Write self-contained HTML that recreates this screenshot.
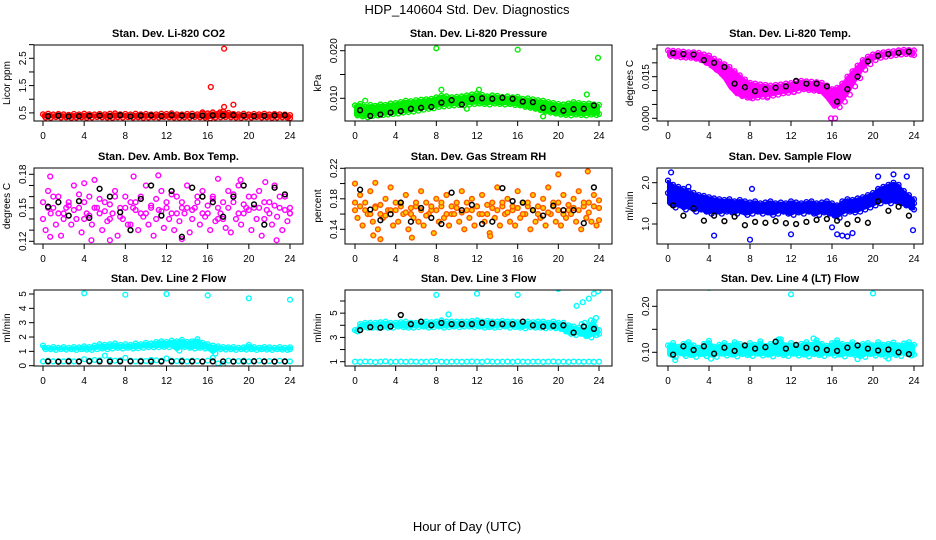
<!DOCTYPE html>
<html><head><meta charset="utf-8">
<style>
html,body{margin:0;padding:0;background:#fff;}
svg{display:block;font-family:"Liberation Sans",Arial,sans-serif;}
</style></head>
<body>
<svg id="c" width="936" height="540" viewBox="0 0 936 540" xmlns="http://www.w3.org/2000/svg">
<text x="467" y="14" text-anchor="middle" font-size="13">HDP_140604  Std. Dev. Diagnostics</text>
<text x="467" y="531" text-anchor="middle" font-size="13">Hour of Day (UTC)</text>
</svg>
<script>
const hrsC = Array.from({length:49},(_,i)=>i*0.5);
const hrsB = Array.from({length:24},(_,i)=>i+0.5);
const xTicks = [0,4,8,12,16,20,24];

const co2Hi = [0.45,0.47,0.44,0.46,0.45,0.43,0.46,0.44,0.47,0.45,0.44,0.46,0.45,0.47,0.48,0.45,0.46,0.44,0.47,0.45,0.46,0.44,0.45,0.47,0.46,0.48,0.45,0.44,0.46,0.47,0.45,0.46,0.48,0.52,0.47,0.55,0.5,0.46,0.45,0.47,0.44,0.46,0.45,0.47,0.44,0.46,0.45,0.44,0.42];
const co2Lo = [0.33,0.32,0.35,0.33,0.34,0.32,0.33,0.34,0.32,0.33,0.35,0.34,0.33,0.32,0.34,0.33,0.35,0.33,0.34,0.32,0.33,0.34,0.33,0.35,0.34,0.33,0.32,0.34,0.33,0.35,0.34,0.33,0.3,0.33,0.34,0.35,0.34,0.33,0.32,0.34,0.33,0.35,0.33,0.34,0.32,0.33,0.34,0.33,0.31];
const co2Blk = [0.38,0.4,0.37,0.38,0.39,0.4,0.38,0.42,0.37,0.4,0.41,0.38,0.42,0.4,0.39,0.4,0.41,0.4,0.42,0.4,0.38,0.39,0.41,0.42];
const co2OutX = [16.3,17.6,17.6,18.5,17.2,15.5];
const co2OutY = [1.45,2.85,0.72,0.8,0.52,0.52];

const presHi = [0.0085,0.0088,0.0082,0.0086,0.0084,0.0087,0.0086,0.0089,0.0090,0.0092,0.0095,0.0094,0.0096,0.0097,0.0098,0.0099,0.0102,0.0105,0.0104,0.0102,0.0103,0.0104,0.0106,0.0108,0.0110,0.0107,0.0104,0.0106,0.0105,0.0103,0.0104,0.0102,0.0103,0.0099,0.0100,0.0098,0.0096,0.0095,0.0092,0.0090,0.0088,0.0087,0.0089,0.0092,0.0090,0.0088,0.0089,0.0087,0.0086];
const presLo = [0.0064,0.0062,0.0060,0.0063,0.0064,0.0065,0.0066,0.0067,0.0068,0.0070,0.0071,0.0072,0.0074,0.0076,0.0078,0.0079,0.0082,0.0083,0.0084,0.0085,0.0086,0.0085,0.0087,0.0088,0.0089,0.0088,0.0087,0.0089,0.0088,0.0087,0.0088,0.0086,0.0085,0.0082,0.0080,0.0078,0.0075,0.0072,0.0070,0.0068,0.0066,0.0065,0.0064,0.0066,0.0065,0.0064,0.0066,0.0065,0.0067];
const presBlk = [0.0075,0.0063,0.0066,0.0070,0.0073,0.0078,0.0080,0.0082,0.0091,0.0096,0.0087,0.0099,0.0100,0.0099,0.0101,0.0099,0.0093,0.0092,0.0080,0.0078,0.0074,0.0077,0.0078,0.0085];
const presOutX = [8,16,23.9,8.5,12.2,22.8,1,11,18.5];
const presOutY = [0.0205,0.0202,0.0185,0.0118,0.0118,0.0108,0.0095,0.0078,0.0062];

const tempHi = [0.0245,0.0243,0.0242,0.0240,0.0238,0.0238,0.0236,0.0230,0.0226,0.0215,0.0205,0.0195,0.0185,0.0170,0.0155,0.0140,0.0128,0.0125,0.0122,0.0120,0.0118,0.0120,0.0122,0.0125,0.0127,0.0132,0.0135,0.0133,0.0132,0.0130,0.0128,0.0118,0.0105,0.0110,0.0125,0.0150,0.0170,0.0190,0.0210,0.0222,0.0230,0.0235,0.0238,0.0240,0.0242,0.0245,0.0247,0.0246,0.0245];
const tempLo = [0.0225,0.0223,0.0220,0.0219,0.0218,0.0215,0.0210,0.0200,0.0190,0.0175,0.0160,0.0140,0.0110,0.0090,0.0080,0.0075,0.0072,0.0075,0.0078,0.0080,0.0082,0.0085,0.0090,0.0092,0.0095,0.0100,0.0105,0.0102,0.0100,0.0098,0.0090,0.0070,0.0045,0.0040,0.0060,0.0085,0.0115,0.0145,0.0175,0.0195,0.0210,0.0218,0.0222,0.0225,0.0228,0.0230,0.0232,0.0230,0.0228];
const tempBlk = [0.0235,0.0232,0.0230,0.0210,0.0200,0.0185,0.0125,0.0112,0.0098,0.0105,0.0110,0.0115,0.0135,0.0125,0.0125,0.0115,0.0060,0.0105,0.0150,0.0205,0.0225,0.0232,0.0236,0.0240];
const tempOutX = [15.9,16.3,8,9.7,12.3];
const tempOutY = [0.0,0.0,0.0075,0.0075,0.0095];

const ambA = [0.140,0.165,0.150,0.160,0.145,0.155,0.170,0.150,0.140,0.160,0.175,0.145,0.155,0.140,0.165,0.150,0.160,0.135,0.155,0.145,0.170,0.150,0.140,0.165,0.155,0.145,0.160,0.150,0.170,0.140,0.155,0.165,0.145,0.160,0.150,0.140,0.165,0.155,0.170,0.145,0.160,0.150,0.165,0.140,0.155,0.170,0.150,0.160,0.145];
const ambB = [0.130,0.145,0.135,0.125,0.150,0.135,0.140,0.128,0.145,0.135,0.150,0.130,0.138,0.145,0.125,0.140,0.135,0.150,0.130,0.142,0.135,0.125,0.148,0.132,0.140,0.130,0.138,0.145,0.128,0.150,0.135,0.142,0.130,0.138,0.145,0.132,0.128,0.140,0.135,0.150,0.130,0.140,0.125,0.148,0.135,0.142,0.130,0.138,0.145];
const ambC = [0.155,0.150,0.160,0.145,0.140,0.152,0.148,0.162,0.155,0.143,0.150,0.158,0.147,0.153,0.160,0.142,0.150,0.155,0.148,0.160,0.145,0.152,0.158,0.147,0.150,0.162,0.145,0.155,0.150,0.148,0.160,0.145,0.152,0.158,0.140,0.155,0.150,0.162,0.145,0.153,0.148,0.160,0.150,0.155,0.145,0.152,0.160,0.148,0.150];
const ambBlk = [0.151,0.155,0.143,0.156,0.141,0.167,0.160,0.146,0.130,0.158,0.170,0.143,0.165,0.124,0.168,0.160,0.155,0.142,0.160,0.170,0.153,0.135,0.168,0.162];
const ambOutX = [0.7,4,8.8,11.2,17,19.2,21.6,0.7,4.7,6.5,13.5,22.7];
const ambOutY = [0.178,0.172,0.178,0.179,0.176,0.175,0.173,0.124,0.121,0.121,0.122,0.121];

const rhA = [0.175,0.185,0.165,0.190,0.170,0.160,0.180,0.195,0.165,0.175,0.185,0.160,0.170,0.190,0.175,0.165,0.180,0.170,0.185,0.160,0.175,0.190,0.165,0.180,0.170,0.185,0.160,0.175,0.195,0.170,0.180,0.165,0.190,0.175,0.170,0.185,0.160,0.180,0.195,0.170,0.175,0.185,0.165,0.180,0.190,0.170,0.175,0.185,0.178];
const rhB = [0.155,0.145,0.160,0.150,0.140,0.155,0.165,0.145,0.150,0.160,0.140,0.155,0.150,0.145,0.160,0.135,0.150,0.155,0.145,0.160,0.150,0.140,0.155,0.145,0.160,0.150,0.135,0.155,0.145,0.160,0.150,0.145,0.155,0.160,0.140,0.150,0.155,0.145,0.160,0.150,0.145,0.155,0.160,0.150,0.140,0.155,0.150,0.145,0.152];
const rhC = [0.165,0.170,0.175,0.160,0.168,0.172,0.158,0.165,0.175,0.170,0.162,0.168,0.175,0.165,0.158,0.170,0.165,0.175,0.160,0.170,0.168,0.162,0.175,0.165,0.170,0.160,0.172,0.168,0.165,0.175,0.162,0.170,0.168,0.160,0.175,0.165,0.170,0.168,0.162,0.175,0.165,0.160,0.172,0.168,0.165,0.175,0.162,0.170,0.168];
const rhBlk = [0.192,0.166,0.152,0.160,0.175,0.150,0.168,0.155,0.147,0.188,0.165,0.172,0.147,0.150,0.194,0.177,0.175,0.165,0.158,0.171,0.165,0.165,0.148,0.195];
const rhOutX = [0,2,2.5,5.6,20,22.9,13.3,1.8];
const rhOutY = [0.200,0.201,0.127,0.129,0.212,0.216,0.131,0.132];

const flA = [2.05,1.95,1.90,1.85,1.80,1.75,1.70,1.68,1.65,1.62,1.60,1.58,1.60,1.55,1.58,1.55,1.52,1.55,1.50,1.52,1.55,1.50,1.52,1.50,1.55,1.52,1.50,1.53,1.55,1.50,1.52,1.55,1.50,1.45,1.55,1.60,1.58,1.62,1.65,1.70,1.75,1.85,1.90,1.95,2.00,1.95,1.80,1.70,1.60];
const flB = [1.50,1.40,1.45,1.35,1.40,1.30,1.35,1.30,1.25,1.30,1.25,1.30,1.28,1.25,1.30,1.22,1.25,1.30,1.25,1.28,1.22,1.25,1.30,1.25,1.22,1.28,1.25,1.30,1.25,1.22,1.28,1.25,1.20,1.15,1.25,1.30,1.28,1.30,1.35,1.40,1.45,1.50,1.55,1.50,1.55,1.50,1.45,1.40,1.35];
const flC = [1.75,1.70,1.60,1.65,1.55,1.60,1.50,1.48,1.45,1.42,1.40,1.42,1.40,1.38,1.40,1.38,1.40,1.42,1.38,1.40,1.40,1.38,1.42,1.40,1.38,1.40,1.42,1.40,1.38,1.40,1.42,1.38,1.35,0.75,0.72,0.70,0.78,1.45,1.50,1.55,1.60,1.65,1.70,1.72,1.75,1.70,1.65,1.60,1.50];
const flBlk = [1.45,1.20,1.38,1.08,1.20,1.07,1.18,0.97,1.05,1.03,1.07,1.02,1.00,1.05,1.10,1.12,1.08,1.00,1.10,1.03,1.55,1.32,1.42,1.20];
const flOutX = [4.5,8,12,16,23.9,0.3,2,8.2,22,20.5,23.3];
const flOutY = [0.72,0.62,0.75,0.92,0.85,2.25,1.9,1.85,2.2,2.15,2.15];

const l2Hi = [1.40,1.25,1.30,1.25,1.30,1.25,1.30,1.28,1.35,1.30,1.40,1.50,1.45,1.50,1.55,1.45,1.50,1.45,1.55,1.50,1.60,1.55,1.65,1.70,1.65,1.75,1.70,1.80,1.65,1.70,1.85,1.60,1.50,1.40,1.35,1.30,1.28,1.30,1.25,1.28,1.45,1.30,1.25,1.30,1.28,1.25,1.30,1.25,1.28];
const l2Lo = [1.15,1.15,1.10,1.15,1.12,1.15,1.10,1.15,1.12,1.10,1.15,1.20,1.15,1.20,1.25,1.20,1.25,1.20,1.22,1.25,1.30,1.28,1.30,1.32,1.30,1.35,1.05,1.30,1.25,1.20,1.25,1.20,1.18,0.85,1.15,1.12,1.15,1.10,1.15,1.12,1.15,1.10,1.15,1.12,1.10,1.15,1.12,1.10,1.15];
const l2Base = [0.30,0.35,0.30,0.32,0.30,0.35,0.30,0.32,0.45,0.35,0.40,0.38,0.70,0.40,0.35,0.38,0.55,0.35,0.30,0.35,0.32,0.40,0.38,0.35,0.50,0.35,0.32,0.38,0.30,0.35,0.32,0.30,0.35,0.55,0.15,0.10,0.35,0.30,0.32,0.35,0.30,0.32,0.35,0.30,0.32,0.30,0.35,0.30,0.30];
const l2Blk = [0.30,0.28,0.30,0.29,0.31,0.30,0.29,0.30,0.31,0.30,0.29,0.30,0.30,0.31,0.30,0.29,0.30,0.30,0.29,0.30,0.31,0.30,0.29,0.30];
const l2OutX = [4,8,12,16,20,24];
const l2OutY = [5.05,4.95,5.0,4.9,4.7,4.6];

const l3Hi = [3.6,4.1,4.2,4.2,4.2,4.25,4.3,4.2,4.2,4.25,4.3,4.2,4.2,4.3,4.3,4.25,4.3,4.4,4.3,4.3,4.3,4.3,4.3,4.35,4.4,4.3,4.35,4.3,4.3,4.35,4.3,4.3,4.25,4.3,4.3,4.25,4.3,4.3,4.2,4.3,4.2,4.2,4.0,3.9,3.8,3.6,4.0,4.3,3.6];
const l3Lo = [3.5,3.8,3.8,3.8,3.8,3.85,3.8,3.8,3.9,3.85,3.8,3.8,3.85,3.9,3.8,3.85,3.9,3.8,3.85,3.9,3.85,3.9,3.9,3.85,3.9,3.8,3.85,3.8,3.85,3.9,3.8,3.85,3.8,3.75,3.85,3.8,3.8,3.75,3.8,3.75,3.7,3.5,3.3,3.2,3.3,3.1,3.0,3.2,3.3];
const l3Base = [1.0,0.98,1.02,1.0,0.97,1.0,1.03,0.98,1.0,1.01,0.99,1.02,1.0,0.98,1.0,1.02,1.05,1.0,0.98,1.0,1.01,0.99,1.0,1.02,1.0,0.98,1.03,1.0,0.99,1.0,1.01,0.98,1.02,1.0,0.99,1.0,1.01,0.98,1.0,1.02,0.99,1.0,0.98,1.01,1.0,0.99,1.0,0.98,1.0];
const l3Blk = [3.6,3.85,3.8,3.9,4.85,4.1,4.3,4.0,4.2,4.1,4.1,4.1,4.2,4.15,4.1,4.1,4.3,4.0,3.9,3.95,4.0,3.4,3.9,3.7];
const l3OutX = [4,8,12,16,20,9.2,21.8,22.4,23,23.5,23.9,22.3,22.6,23.2,23.7];
const l3OutY = [7.2,6.5,6.6,6.5,7.0,4.9,5.6,5.9,6.2,6.6,6.8,4.1,4.2,4.4,4.6];

const l4A = [0.115,0.120,0.112,0.118,0.122,0.115,0.110,0.118,0.125,0.112,0.116,0.120,0.114,0.122,0.118,0.112,0.120,0.116,0.124,0.114,0.118,0.122,0.128,0.115,0.120,0.114,0.118,0.122,0.116,0.126,0.118,0.114,0.120,0.126,0.118,0.116,0.122,0.114,0.118,0.120,0.115,0.122,0.116,0.118,0.121,0.115,0.119,0.122,0.116];
const l4B = [0.095,0.090,0.098,0.092,0.094,0.090,0.096,0.092,0.095,0.090,0.097,0.093,0.095,0.091,0.096,0.094,0.092,0.097,0.093,0.095,0.091,0.096,0.094,0.092,0.097,0.093,0.095,0.091,0.096,0.094,0.092,0.097,0.093,0.095,0.091,0.096,0.094,0.092,0.090,0.096,0.093,0.095,0.091,0.096,0.094,0.092,0.097,0.093,0.095];
const l4Blk = [0.095,0.113,0.105,0.113,0.097,0.110,0.103,0.115,0.108,0.111,0.123,0.108,0.116,0.110,0.108,0.105,0.103,0.110,0.115,0.108,0.104,0.106,0.100,0.096];
const l4OutX = [4,12,20,0.7,4.2,18.5,21.5,14.2,10.8];
const l4OutY = [0.240,0.226,0.228,0.083,0.086,0.085,0.086,0.130,0.128];

const colL=[34,345,657], colR=[303,612,923], colX0=[43,355,668], colX24=[290,599,914];
const rowT=[45,168,290], rowB=[121,244,366];
const NS='http://www.w3.org/2000/svg';
const svg=document.getElementById('c');
function mk(tag,attrs,parent){const e=document.createElementNS(NS,tag);for(const k in attrs)e.setAttribute(k,attrs[k]);(parent||svg).appendChild(e);return e;}

const panels=[
 {id:'co2',title:'Stan. Dev. Li-820 CO2',yl:'Licor ppm',c:0,r:0,ref:[0.5,112.9,2.5,58.3],ticks:[0.5,1,1.5,2,2.5,3],labels:['0.5','1.5','2.5'],col:'#ff0000',band:[co2Lo,co2Hi],pts:[co2Hi,co2Lo],blk:co2Blk,ox:co2OutX,oy:co2OutY},
 {id:'pressure',title:'Stan. Dev. Li-820 Pressure',yl:'kPa',c:1,r:0,ref:[0.010,98.3,0.020,50.7],ticks:[0.010,0.015,0.020],labels:['0.010','0.020'],col:'#00ee00',band:[presLo,presHi],pts:[presHi,presLo],blk:presBlk,ox:presOutX,oy:presOutY},
 {id:'temp',title:'Stan. Dev. Li-820 Temp.',yl:'degrees C',c:2,r:0,ref:[0,118.3,0.015,76.7],ticks:[0,0.005,0.010,0.015,0.020,0.025],labels:['0.000','0.015'],col:'#ff00ff',band:[tempLo,tempHi],pts:[tempHi,tempLo],blk:tempBlk,ox:tempOutX,oy:tempOutY},
 {id:'amb-box-temp',title:'Stan. Dev. Amb. Box Temp.',yl:'degrees C',c:0,r:1,ref:[0.12,241.3,0.18,174.3],ticks:[0.12,0.13,0.14,0.15,0.16,0.17,0.18],labels:['0.12','0.15','0.18'],col:'#ff00ff',band:null,pts:[ambA,ambB,ambC],blk:ambBlk,ox:ambOutX,oy:ambOutY},
 {id:'gas-rh',title:'Stan. Dev. Gas Stream RH',yl:'percent',c:1,r:1,ref:[0.14,229.3,0.22,168.3],ticks:[0.14,0.16,0.18,0.20,0.22],labels:['0.14','0.18','0.22'],col:'#ff5500',fill:'#ffcc00',band:null,pts:[rhA,rhB,rhC],blk:rhBlk,ox:rhOutX,oy:rhOutY},
 {id:'sample-flow',title:'Stan. Dev. Sample Flow',yl:'ml/min',c:2,r:1,ref:[1.0,224,2.0,182.7],ticks:[1.0,1.5,2.0],labels:['1.0','2.0'],col:'#0000ff',band:[flB,flA],pts:[flA,flB,flC],blk:flBlk,ox:flOutX,oy:flOutY},
 {id:'line2-flow',title:'Stan. Dev. Line 2 Flow',yl:'ml/min',c:0,r:2,ref:[0,365.7,5,294],ticks:[0,1,2,3,4,5],labels:['0','1','2','3','4','5'],col:'#00ffff',band:[l2Lo,l2Hi],pts:[l2Hi,l2Lo,l2Base],blk:l2Blk,ox:l2OutX,oy:l2OutY},
 {id:'line3-flow',title:'Stan. Dev. Line 3 Flow',yl:'ml/min',c:1,r:2,ref:[1,361.7,6,301],ticks:[1,2,3,4,5,6],labels:['1','3','5'],col:'#00ffff',band:[l3Lo,l3Hi],pts:[l3Hi,l3Lo,l3Base],blk:l3Blk,ox:l3OutX,oy:l3OutY},
 {id:'line4-flow',title:'Stan. Dev. Line 4 (LT) Flow',yl:'ml/min',c:2,r:2,ref:[0.10,352.3,0.20,306.3],ticks:[0.10,0.15,0.20],labels:['0.10','0.20'],col:'#00ffff',band:[l4B,l4A],pts:[l4A,l4B],blk:l4Blk,ox:l4OutX,oy:l4OutY}
];

panels.forEach(p=>{
  const L=colL[p.c],R=colR[p.c],T=rowT[p.r],B=rowB[p.r];
  const xs=h=>colX0[p.c]+(colX24[p.c]-colX0[p.c])*h/24;
  const [v1,p1,v2,p2]=p.ref;
  const ys=v=>p1+(v-v1)*(p2-p1)/(v2-v1);
  const g=mk('g',{});
  
  
  const t=mk('text',{x:(L+R)/2,y:T-8,'text-anchor':'middle','font-size':11,'font-weight':'bold'},g);
  t.textContent=p.title;
  
  
  const yl=mk('text',{x:0,y:0,'text-anchor':'middle','font-size':10,transform:`translate(${L-24},${(T+B)/2}) rotate(-90)`},g);
  yl.textContent=p.yl;
  
  
  const plot=mk('g',{},g);
  
  
  const clip='clip-'+p.id;
  const cp=mk('clipPath',{id:clip},g);mk('rect',{x:L,y:T,width:R-L,height:B-T},cp);
  const marks=mk('g',{'clip-path':`url(#${clip})`},plot);
  if(p.band){
    const [lo,hi]=p.band;
    let d='M'+hrsC.map((h,i)=>xs(h).toFixed(1)+','+ys(hi[i]).toFixed(1)).join('L');
    d+='L'+hrsC.slice().reverse().map((h,j)=>{const i=hrsC.length-1-j;return xs(h).toFixed(1)+','+ys(lo[i]).toFixed(1);}).join('L')+'Z';
    const band=mk('path',{d:d,fill:p.col,stroke:p.col,'stroke-width':2,'stroke-linejoin':'round'},marks);
    
    
  }
  p.pts.forEach((arr,k)=>{
    arr.forEach((v,i)=>{
      const h=hrsC[i]+(k%2?0.25:0);
      const cc=mk('circle',{cx:xs(Math.min(h,24)).toFixed(1),cy:ys(v).toFixed(1),r:2.4,fill:p.fill||'none',stroke:p.col,'stroke-width':1.4},marks);
      
      
    });
  });
  p.ox.forEach((h,i)=>{
    const cc=mk('circle',{cx:xs(h).toFixed(1),cy:ys(p.oy[i]).toFixed(1),r:2.4,fill:p.fill||'none',stroke:p.col,'stroke-width':1.4},marks);
    
    
  });
  p.blk.forEach((v,i)=>{
    const cc=mk('circle',{cx:xs(hrsB[i]).toFixed(1),cy:ys(v).toFixed(1),r:2.4,fill:'none',stroke:'#000','stroke-width':1.5},marks);
    
    
  });
  const box=mk('rect',{x:L,y:T,width:R-L,height:B-T,fill:'none',stroke:'#000','stroke-width':1},g);
  
  
  xTicks.forEach(h=>{
    mk('line',{x1:xs(h),x2:xs(h),y1:B,y2:B+5,stroke:'#000'},g);
    const tl=mk('text',{x:xs(h),y:B+18,'text-anchor':'middle','font-size':10},g);
    tl.textContent=String(h);
    
    
  });
  p.ticks.forEach(v=>{
    mk('line',{x1:L-5,x2:L,y1:ys(v),y2:ys(v),stroke:'#000'},g);
  });
  p.labels.forEach(s=>{
    const v=parseFloat(s);
    const tl=mk('text',{x:0,y:0,'text-anchor':'middle','font-size':10,transform:`translate(${L-8},${ys(v)}) rotate(-90)`},g);
    tl.textContent=s;
    
    
  });
});
</script>
</body></html>
